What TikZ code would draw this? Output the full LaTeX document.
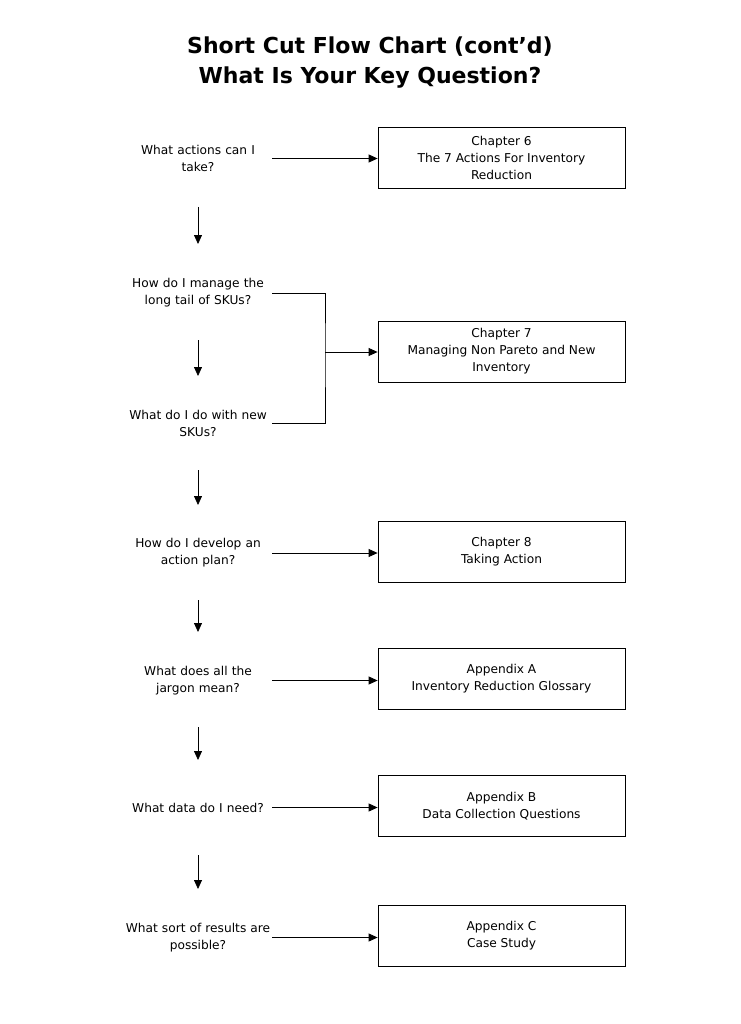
\documentclass[tikz,border=0pt]{standalone}
\usepackage{fontspec}
\setmainfont{DejaVu Sans}
\usetikzlibrary{arrows.meta,positioning}

\begin{document}
\begin{tikzpicture}[
    x=1pt,y=-1pt,
    question/.style={align=center,text width=148pt,inner sep=0pt,
      font=\fontsize{12.2}{17}\selectfont},
    chapter/.style={draw,line width=0.8pt,align=center,minimum width=247pt,
      minimum height=61pt,inner sep=2pt,font=\fontsize{12.2}{17}\selectfont},
    arrow/.style={-{Triangle[length=9pt,width=8pt]},line width=0.8pt}
]
\useasboundingbox (0,0) rectangle (740,1024);
\node[font=\bfseries\fontsize{22}{30}\selectfont,align=center] (title) at (370,63)
  {Short Cut Flow Chart (cont’d)\\What Is Your Key Question?};
% questions
\node[question] (q1) at (198,158.5) {What actions can I\\take?};
\node[question] (q2) at (198,293) {How do I manage the\\long tail of SKUs?};
\node[question] (q3) at (198,423) {What do I do with new\\SKUs?};
\node[question] (q4) at (198,553) {How do I develop an\\action plan?};
\node[question] (q5) at (198,680.5) {What does all the\\jargon mean?};
\node[question] (q6) at (198,807.5) {What data do I need?};
\node[question] (q7) at (198,937.5) {What sort of results are\\possible?};
% chapters
\node[chapter] (ch6) at (501.5,157.5) {Chapter 6\\The 7 Actions For Inventory\\Reduction};
\node[chapter] (ch7) at (501.5,351.5) {Chapter 7\\Managing Non Pareto and New\\Inventory};
\node[chapter] (ch8) at (501.5,552) {Chapter 8\\Taking Action};
\node[chapter] (appA) at (501.5,679) {Appendix A\\Inventory Reduction Glossary};
\node[chapter] (appB) at (501.5,806) {Appendix B\\Data Collection Questions};
\node[chapter] (appC) at (501.5,935.5) {Appendix C\\Case Study};
% free ends of the down arrows
\coordinate (d1) at (198,207);  \coordinate (d1e) at (198,244);
\coordinate (d2) at (198,340);  \coordinate (d2e) at (198,376);
\coordinate (d3) at (198,470);  \coordinate (d3e) at (198,505);
\coordinate (d4) at (198,600);  \coordinate (d4e) at (198,632);
\coordinate (d5) at (198,727);  \coordinate (d5e) at (198,760);
\coordinate (d6) at (198,855);  \coordinate (d6e) at (198,889);
\coordinate (join) at (325,352);
% connectors
\draw[arrow] (q1.east) -- (q1.east -| ch6.west);
\draw[line width=0.8pt] (q2.east) -| (join) |- (q3.east);
\draw[arrow] (join) -- (join -| ch7.west);
\draw[arrow] (q4.east) -- (q4.east -| ch8.west);
\draw[arrow] (q5.east) -- (q5.east -| appA.west);
\draw[arrow] (q6.east) -- (q6.east -| appB.west);
\draw[arrow] (q7.east) -- (q7.east -| appC.west);
\draw[arrow] (d1) -- (d1e);
\draw[arrow] (d2) -- (d2e);
\draw[arrow] (d3) -- (d3e);
\draw[arrow] (d4) -- (d4e);
\draw[arrow] (d5) -- (d5e);
\draw[arrow] (d6) -- (d6e);
\end{tikzpicture}
\end{document}
